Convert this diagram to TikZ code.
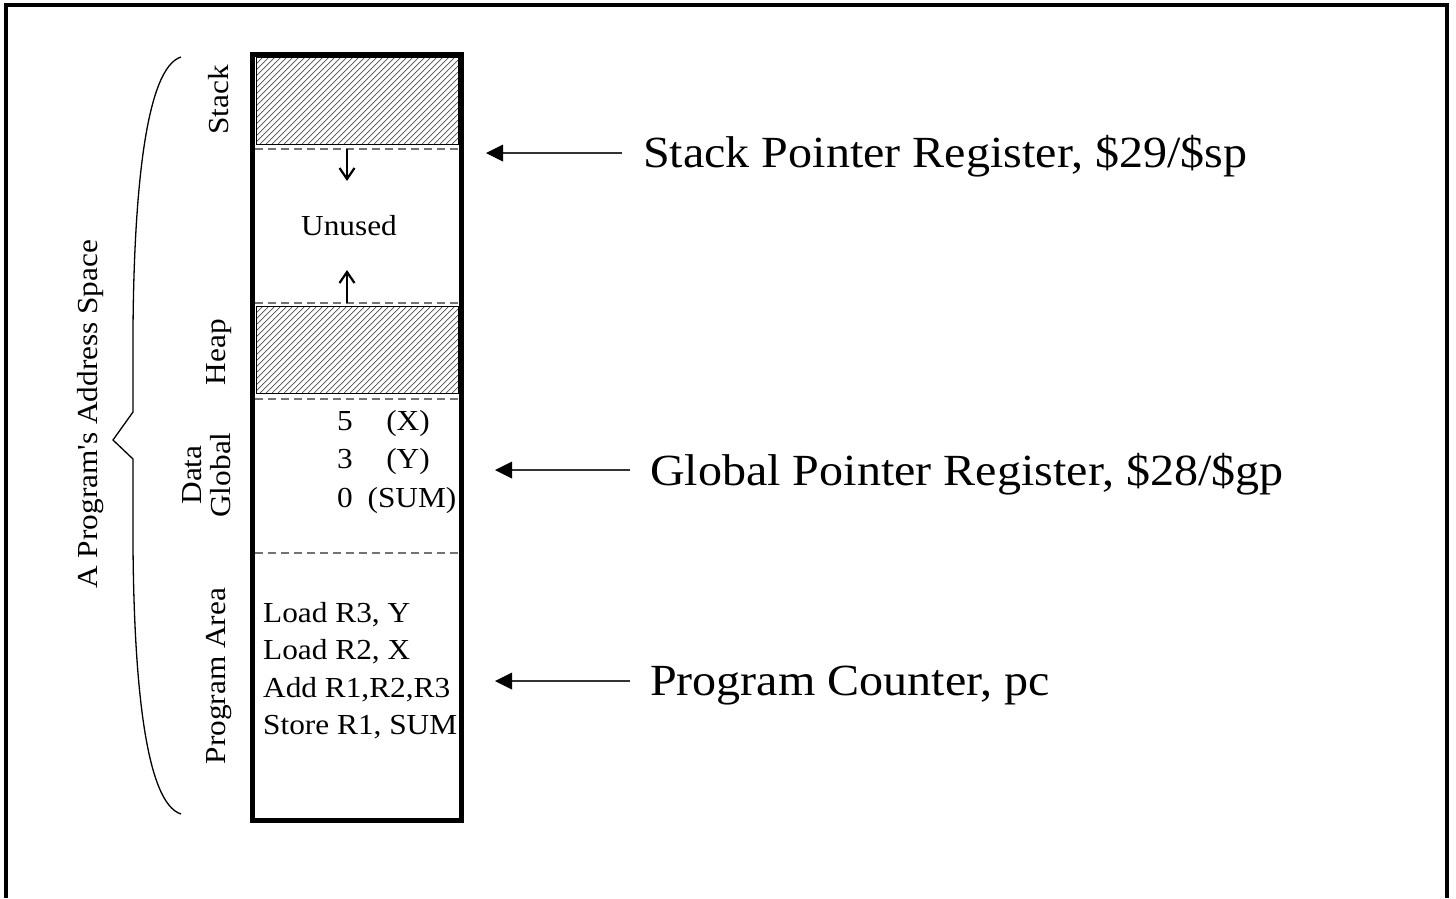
\documentclass[tikz,border=0pt]{standalone}
\usepackage{fontspec}
\setmainfont[FakeStretch=1.08]{Liberation Serif}
\tikzset{
  smalltxt/.style={font=\fontsize{29}{35}\selectfont, inner sep=0pt},
  bigtxt/.style={font=\fontsize{44.5}{50}\selectfont, inner sep=0pt},
  sidelabel/.style={smalltxt, rotate=90, align=center},
  sepline/.style={draw=black!55, line width=1.2pt, dash pattern=on 8pt off 5pt},
  hatchline/.style={draw=black!70, line width=0.7pt},
  regionbox/.style={draw=black, line width=1pt},
  growline/.style={line width=1.8pt},
  growhead/.style={line width=2.2pt, line join=miter},
  ptrline/.style={line width=1.8pt, draw=black!80},
  ptrhead/.style={fill=black},
}
\begin{document}
\begin{tikzpicture}[x=1pt,y=-1pt]
\useasboundingbox (0,0) rectangle (1456,898);
% outer frame (open at the bottom)
\draw[line width=3.2pt] (6,898) -- (6,5) -- (1447,5) -- (1447,898);

% regions
\coordinate (stTL) at (256,57);  \coordinate (stBR) at (458,144);
\coordinate (hpTL) at (256,306); \coordinate (hpBR) at (458,393);
\begin{scope}
  \clip (stTL) rectangle (stBR);
  \foreach \i in {0,...,50} \draw[hatchline] (170+\i*6,144) -- ++(100,-100);
\end{scope}
\begin{scope}
  \clip (hpTL) rectangle (hpBR);
  \foreach \i in {0,...,50} \draw[hatchline] (170+\i*6,393) -- ++(100,-100);
\end{scope}
\draw[regionbox] (stTL) rectangle (stBR);
\draw[regionbox] (hpTL) rectangle (hpBR);

% separators
\coordinate (s1l) at (255,149); \coordinate (s1r) at (460,149);
\coordinate (s2l) at (255,303); \coordinate (s2r) at (460,303);
\coordinate (s3l) at (255,399); \coordinate (s3r) at (460,399);
\coordinate (s4l) at (255,553); \coordinate (s4r) at (460,553);
\draw[sepline] (s1l) -- (s1r);
\draw[sepline] (s2l) -- (s2r);
\draw[sepline] (s3l) -- (s3r);
\draw[sepline] (s4l) -- (s4r);

% memory column
\node[draw, line width=5.5pt, minimum width=209pt, minimum height=766pt, inner sep=0pt] (mem) at (357,437.5) {};

% growth arrows
\coordinate (dn0) at (347,149); \coordinate (dn1) at (347,179);
\coordinate (up0) at (347,303); \coordinate (up1) at (347,272);
\draw[growline] (dn0) -- (dn1);
\draw[growhead] ([shift={(-7.5,-11)}]dn1) -- (dn1) -- ([shift={(7.5,-11)}]dn1);
\draw[growline] (up0) -- (up1);
\draw[growhead] ([shift={(-7.5,11)}]up1) -- (up1) -- ([shift={(7.5,11)}]up1);
\node[smalltxt, anchor=base] (unused) at (349,235) {Unused};

% global data
\node[smalltxt, anchor=base] (n5) at (345,430) {5};
\node[smalltxt, anchor=base] (n3) at (345,468) {3};
\node[smalltxt, anchor=base] (n0) at (345,507) {0};
\node[smalltxt, anchor=base] (vx) at (408,430) {(X)};
\node[smalltxt, anchor=base] (vy) at (408,468) {(Y)};
\node[smalltxt, anchor=base] (vs) at (412,507) {(SUM)};

% program
\node[smalltxt, anchor=base west] (i1) at (263,622) {Load R3, Y};
\node[smalltxt, anchor=base west] (i2) at (263,659.5) {Load R2, X};
\node[smalltxt, anchor=base west] (i3) at (263,697) {Add R1,R2,R3};
\node[smalltxt, anchor=base west] (i4) at (263,734.5) {Store R1, SUM};

% side labels
\node[sidelabel] (lstack) at (219,100) {Stack};
\node[sidelabel] (lheap) at (219,352) {Heap};
\node[sidelabel] (lglob) at (207,475) {Data\\[-6pt]Global};
\node[sidelabel] (lprog) at (219,676) {Program Area};
\node[sidelabel] (lspace) at (91,414) {A Program\textquotesingle s Address Space};

% brace
\draw[line width=1.3pt] (181,57) .. controls (146,68) and (134,190) .. (133,330)
  -- (133,412) -- (113,440) -- (133,459) -- (133,545)
  .. controls (134,685) and (146,803) .. (181,814);

% pointer labels
\node[bigtxt, anchor=base west] (sp) at (643,167) {Stack Pointer Register, \$29/\$sp};
\node[bigtxt, anchor=base west] (gp) at (650,485) {Global Pointer Register, \$28/\$gp};
\node[bigtxt, anchor=base west] (pc) at (650,695) {Program Counter, pc};
\coordinate (sptip) at (486,153);
\coordinate (gptip) at (495,470);
\coordinate (pctip) at (495,681);
\foreach \lab/\tip/\gap in {sp/sptip/21, gp/gptip/20, pc/pctip/20}{
  \draw[ptrline] ([xshift=-\gap pt]\lab.west |- \tip) -- ([xshift=10pt]\tip);
  \fill[ptrhead] (\tip) -- ([shift={(17,-8.5)}]\tip) -- ([shift={(17,8.5)}]\tip) -- cycle;
}
\end{tikzpicture}
\end{document}
